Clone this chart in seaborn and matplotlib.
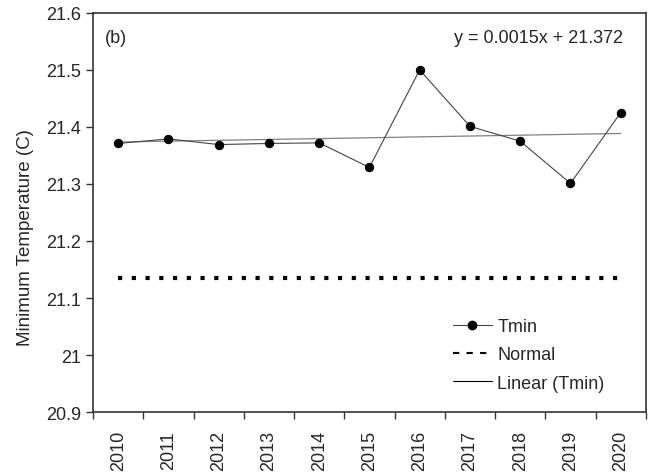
import numpy as np
import pandas as pd
import seaborn as sns
import matplotlib.pyplot as plt
from matplotlib.ticker import FixedLocator, NullFormatter

# data
years = ["2010", "2011", "2012", "2013", "2014", "2015", "2016", "2017", "2018", "2019", "2020"]
tmin = [21.371, 21.379, 21.369, 21.371, 21.372, 21.329, 21.500, 21.401, 21.375, 21.301, 21.425]
normal_value = 21.135
slope = 0.0015
intercept = 21.372

sns.set_theme(style="white")
plt.rcParams["font.family"] = ["Liberation Sans", "DejaVu Sans"]

pos = np.arange(len(years))
df = pd.DataFrame({"pos": pos, "Tmin": tmin,
                   "Normal": [normal_value] * len(years),
                   "Trend": intercept + slope * (pos + 1)})

fig, ax = plt.subplots(figsize=(6.55, 4.77), dpi=100)
fig.subplots_adjust(left=0.142, right=0.986, top=0.971, bottom=0.134)

sns.lineplot(data=df, x="pos", y="Normal", ax=ax, color="black", linewidth=3.0,
             linestyle=(0, (1, 2.3)), label="_nolegend_")
sns.lineplot(data=df, x="pos", y="Trend", ax=ax, color="#808080", linewidth=0.9,
             label="_nolegend_")
sns.lineplot(data=df, x="pos", y="Tmin", ax=ax, color="#444444", linewidth=0.8,
             marker="o", markersize=6, markerfacecolor="black", markeredgecolor="black",
             label="_nolegend_")

# legend proxies
h1, = ax.plot([], [], color="#444444", linewidth=0.8, marker="o", markersize=6,
              markerfacecolor="black", markeredgecolor="black")
h2, = ax.plot([], [], color="black", linewidth=1.5, linestyle=(0, (3, 3.5)))
h3, = ax.plot([], [], color="black", linewidth=0.8)
ax.legend([h1, h2, h3], ["Tmin", "Normal", "Linear (Tmin)"], loc="upper left",
          bbox_to_anchor=(0.621, 0.276), frameon=False, fontsize=13,
          handlelength=2.2, handletextpad=0.28, labelspacing=0.62)

ax.set_xlim(-0.5, len(years) - 0.5)
ax.set_ylim(20.9, 21.6)
ax.set_yticks([20.9, 21.0, 21.1, 21.2, 21.3, 21.4, 21.5, 21.6])
ax.set_yticklabels(["20.9", "21", "21.1", "21.2", "21.3", "21.4", "21.5", "21.6"])

ax.xaxis.set_major_locator(FixedLocator(np.arange(-0.5, len(years), 1.0)))
ax.xaxis.set_major_formatter(NullFormatter())
ax.xaxis.set_minor_locator(FixedLocator(pos))
ax.set_xticklabels(years, minor=True, rotation=90)
ax.tick_params(axis="x", which="major", direction="out", length=5, width=1, color="#333333",
               bottom=True)
ax.tick_params(axis="x", which="minor", length=0, labelsize=13, pad=13, bottom=True)
ax.tick_params(axis="y", direction="out", length=5, width=1, color="#333333",
               labelsize=13, left=True)

ax.set_xlabel("")
ax.set_ylabel("Minimum Temperature (C)", fontsize=13.5)
ax.yaxis.set_label_coords(-0.106, 0.44)

for sp in ax.spines.values():
    sp.set_color("#333333")
    sp.set_linewidth(1.2)

ax.text(0.022, 0.96, "(b)", transform=ax.transAxes, fontsize=13, va="top", ha="left")
ax.text(0.958, 0.96, "y = 0.0015x + 21.372", transform=ax.transAxes, fontsize=13,
        va="top", ha="right")

fig.savefig("out.png", dpi=100)
